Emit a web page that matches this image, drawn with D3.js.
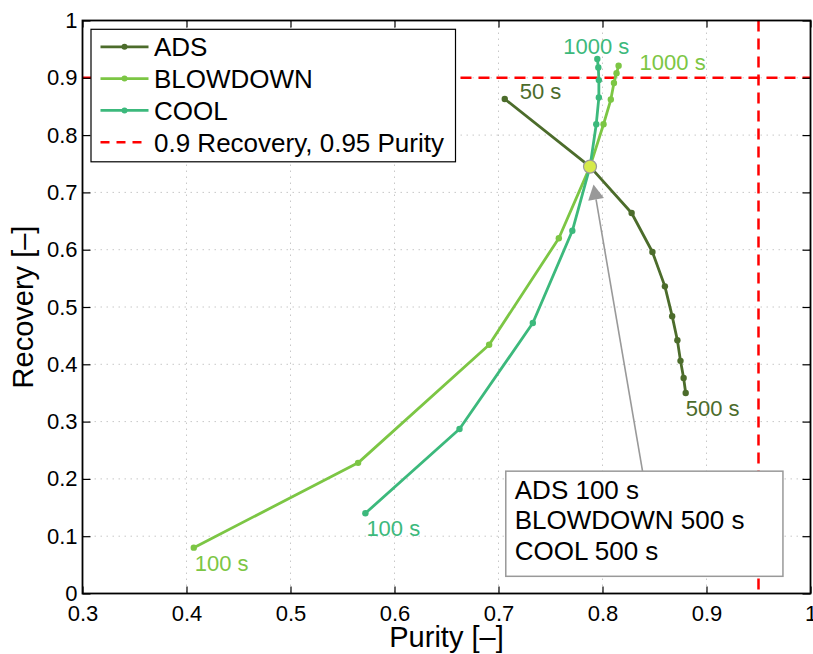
<!DOCTYPE html>
<html>
<head>
<meta charset="utf-8">
<script src="https://cdn.jsdelivr.net/npm/d3@7"></script>
<style>
body { margin: 0; background: #fff; }
text { font-family: "Liberation Sans", Arial, Helvetica, sans-serif; }
</style>
</head>
<body>
<script>
// cycle step times [s] and the purity / recovery reached
var adsTime = [50, 100, 150, 200, 250, 300, 350, 400, 450, 500];
var adsPurity = [0.706, 0.788, 0.828, 0.848, 0.860, 0.867, 0.872, 0.875, 0.878, 0.880];
var adsRecovery = [0.863, 0.745, 0.664, 0.596, 0.536, 0.484, 0.442, 0.406, 0.376, 0.350];

var blowTime = [100, 200, 300, 400, 500, 600, 700, 800, 900, 1000];
var blowPurity = [0.407, 0.565, 0.691, 0.758, 0.788, 0.801, 0.808, 0.811, 0.8135, 0.8155];
var blowRecovery = [0.080, 0.228, 0.434, 0.620, 0.745, 0.819, 0.862, 0.891, 0.908, 0.921];

var coolTime = [100, 200, 300, 400, 500, 600, 700, 800, 900, 1000];
var coolPurity = [0.572, 0.6625, 0.733, 0.771, 0.788, 0.794, 0.7965, 0.7965, 0.796, 0.795];
var coolRecovery = [0.140, 0.287, 0.472, 0.633, 0.745, 0.819, 0.8655, 0.896, 0.918, 0.933];

var xTicks = [0.3, 0.4, 0.5, 0.6, 0.7, 0.8, 0.9, 1];
var yTicks = [0, 0.1, 0.2, 0.3, 0.4, 0.5, 0.6, 0.7, 0.8, 0.9, 1];

var targetRecovery = 0.9, targetPurity = 0.95;
var basePurity = 0.788, baseRecovery = 0.745;
var noteLines = ["ADS 100 s", "BLOWDOWN 500 s", "COOL 500 s"];
var legendNames = ["ADS", "BLOWDOWN", "COOL", "0.9 Recovery, 0.95 Purity"];

var series = [
	{ name: "ADS", time: adsTime, purity: adsPurity, recovery: adsRecovery, color: "#4c6c2b" },
	{ name: "BLOWDOWN", time: blowTime, purity: blowPurity, recovery: blowRecovery, color: "#7cc644" },
	{ name: "COOL", time: coolTime, purity: coolPurity, recovery: coolRecovery, color: "#3cb97c" }
];

var svg = d3.select("body").append("svg").attr("width", 813).attr("height", 654),
    margin = {top: 20.5, right: 2.5, bottom: 60.5, left: 82.5},
    width = +svg.attr("width") - margin.left - margin.right,
    height = +svg.attr("height") - margin.top - margin.bottom;

var x = d3.scaleLinear().domain([0.3, 1]).range([0, width]),
    y = d3.scaleLinear().domain([0, 1]).range([height, 0]);

var g = svg.append("g")
    .attr("transform", "translate(" + margin.left + "," + margin.top + ")");

// dotted grid
g.selectAll(".gx").data(xTicks.slice(1, -1)).enter().append("line")
    .attr("x1", d => x(d)).attr("x2", d => x(d))
    .attr("y1", 0).attr("y2", height)
    .attr("stroke", "#c8c8c8").attr("stroke-width", 1).attr("stroke-dasharray", "1.5,4.5");
g.selectAll(".gy").data(yTicks.slice(1, -1)).enter().append("line")
    .attr("x1", 0).attr("x2", width)
    .attr("y1", d => y(d)).attr("y2", d => y(d))
    .attr("stroke", "#c8c8c8").attr("stroke-width", 1).attr("stroke-dasharray", "1.5,4.5");

// target lines
g.append("line")
    .attr("x1", 0).attr("x2", width)
    .attr("y1", y(targetRecovery)).attr("y2", y(targetRecovery))
    .attr("stroke", "#ff0000").attr("stroke-width", 2.5).attr("stroke-dasharray", "11,7");
g.append("line")
    .attr("x1", x(targetPurity)).attr("x2", x(targetPurity))
    .attr("y1", 0).attr("y2", height)
    .attr("stroke", "#ff0000").attr("stroke-width", 2.5).attr("stroke-dasharray", "11,7");

var line = d3.line().x(d => x(d[0])).y(d => y(d[1]));

series.forEach(s => {
	var pts = s.purity.map((p, i) => [p, s.recovery[i]]);
	g.append("path")
	    .datum(pts)
	    .attr("fill", "none")
	    .attr("stroke", s.color)
	    .attr("stroke-width", 2.8)
	    .attr("stroke-linejoin", "round")
	    .attr("d", line);
	g.selectAll(null).data(pts).enter().append("circle")
	    .attr("cx", d => x(d[0])).attr("cy", d => y(d[1]))
	    .attr("r", 3.2)
	    .attr("fill", s.color);
});

// end labels
function endLabel(s, i, dx, dy) {
	g.append("text")
	    .attr("x", x(s.purity[i]) + dx)
	    .attr("y", y(s.recovery[i]) + dy)
	    .attr("fill", s.color)
	    .attr("font-size", 22)
	    .text(s.time[i] + " s");
}
endLabel(series[0], 0, 15, 0);
endLabel(series[0], adsTime.length - 1, 0, 23);
endLabel(series[1], 0, 1, 23);
endLabel(series[1], blowTime.length - 1, 21, 4);
endLabel(series[2], 0, 1, 23);
endLabel(series[2], coolTime.length - 1, -34, -5);

// base case marker
g.append("circle")
    .attr("cx", x(basePurity)).attr("cy", y(baseRecovery))
    .attr("r", 6.5)
    .attr("fill", "#d6ea4a")
    .attr("stroke", "#999").attr("stroke-width", 1.2);

// annotation box and arrow
var box = {x0: x(0.707), x1: x(0.9735), y0: y(0.2135), y1: y(0.030)};
var tail = [x(0.8385), box.y0],
    tip = [x(basePurity) + 3.5, y(baseRecovery) + 18];
var dir = [tip[0] - tail[0], tip[1] - tail[1]],
    len = Math.hypot(dir[0], dir[1]);
dir = [dir[0] / len, dir[1] / len];
var headLen = 15, headW = 8,
    base = [tip[0] - dir[0] * headLen, tip[1] - dir[1] * headLen];

g.append("line")
    .attr("x1", tail[0]).attr("y1", tail[1])
    .attr("x2", base[0]).attr("y2", base[1])
    .attr("stroke", "#999").attr("stroke-width", 1.6);
g.append("path")
    .attr("d", "M" + tip + "L" + [base[0] - dir[1] * headW, base[1] + dir[0] * headW] +
         "L" + [base[0] + dir[1] * headW, base[1] - dir[0] * headW] + "Z")
    .attr("fill", "#999");

g.append("rect")
    .attr("x", box.x0).attr("y", box.y0)
    .attr("width", box.x1 - box.x0).attr("height", box.y1 - box.y0)
    .attr("fill", "#fff").attr("stroke", "#999").attr("stroke-width", 1.5);
g.selectAll(".note").data(noteLines).enter().append("text")
    .attr("x", box.x0 + 9)
    .attr("y", (d, i) => box.y0 + 27.5 + i * 30.5)
    .attr("font-size", 26)
    .attr("fill", "#000")
    .text(d => d);

// axes, ticks on all four sides pointing in
g.append("g")
    .attr("transform", "translate(0," + height + ")")
    .call(d3.axisBottom(x).tickValues(xTicks).tickSize(-7).tickPadding(12).tickFormat(d3.format("")))
    .call(a => a.select(".domain").remove());
g.append("g")
    .call(d3.axisTop(x).tickValues(xTicks).tickSize(-7).tickFormat(""))
    .call(a => a.select(".domain").remove());
g.append("g")
    .call(d3.axisLeft(y).tickValues(yTicks).tickSize(-8).tickPadding(5).tickFormat(d3.format("")))
    .call(a => a.select(".domain").remove());
g.append("g")
    .attr("transform", "translate(" + width + ",0)")
    .call(d3.axisRight(y).tickValues(yTicks).tickSize(-8).tickFormat(""))
    .call(a => a.select(".domain").remove());

g.selectAll(".tick line").attr("stroke", "#000").attr("stroke-width", 1.2);
g.selectAll(".tick text")
    .attr("fill", "#000")
    .attr("font-size", 22)
    .style("font-family", '"Liberation Sans", Arial, sans-serif');

g.append("rect")
    .attr("width", width).attr("height", height)
    .attr("fill", "none").attr("stroke", "#000").attr("stroke-width", 1.8);

// axis titles
g.append("text")
    .attr("x", width / 2).attr("y", height + 53)
    .attr("text-anchor", "middle")
    .attr("font-size", 29)
    .text("Purity [–]");
g.append("text")
    .attr("transform", "translate(" + (33 - margin.left) + "," + height / 2 + ") rotate(-90)")
    .attr("text-anchor", "middle")
    .attr("font-size", 29)
    .text("Recovery [–]");

// legend
var lg = g.append("g").attr("transform", "translate(8.5,8.8)");
lg.append("rect")
    .attr("width", 364.5).attr("height", 132.5)
    .attr("fill", "#fff").attr("stroke", "#000").attr("stroke-width", 1.2);
var rows = lg.selectAll(".row").data(legendNames).enter().append("g")
    .attr("transform", (d, i) => "translate(0," + (17.5 + i * 31.8) + ")");
rows.append("line")
    .attr("x1", 9.5).attr("x2", 57.5)
    .attr("stroke", (d, i) => i < 3 ? series[i].color : "#ff0000")
    .attr("stroke-width", (d, i) => i < 3 ? 2.8 : 2.5)
    .attr("stroke-dasharray", (d, i) => i < 3 ? null : "9,7");
rows.filter((d, i) => i < 3).append("circle")
    .attr("cx", 33.5).attr("r", 3)
    .attr("fill", (d, i) => series[i].color);
rows.append("text")
    .attr("x", 63).attr("dy", "0.36em")
    .attr("font-size", 26)
    .attr("fill", "#000")
    .text(d => d);
</script>
</body>
</html>
